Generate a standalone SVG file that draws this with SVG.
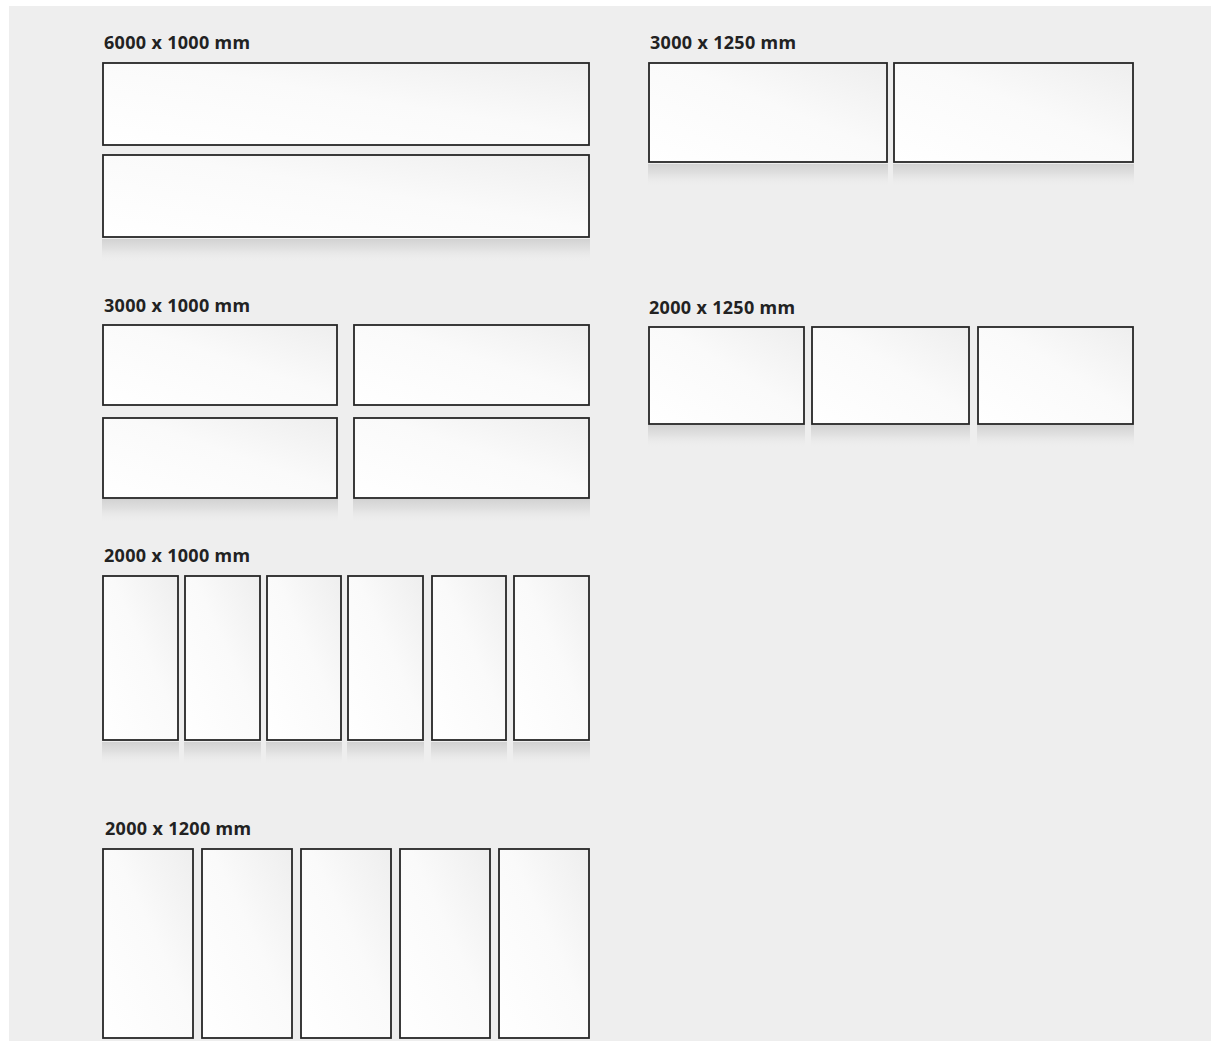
<svg xmlns="http://www.w3.org/2000/svg" width="1211" height="1041" viewBox="0 0 1211 1041">
<defs>
<linearGradient id="panelFill" x1="0" y1="1" x2="1" y2="0">
<stop offset="0" stop-color="#ffffff"/>
<stop offset="0.55" stop-color="#fafafa"/>
<stop offset="1" stop-color="#eeeeee"/>
</linearGradient>
<linearGradient id="shadowFill" x1="0" y1="0" x2="0" y2="1">
<stop offset="0" stop-color="#d2d2d2" stop-opacity="1"/>
<stop offset="0.4" stop-color="#dedede" stop-opacity="0.9"/>
<stop offset="1" stop-color="#eeeeee" stop-opacity="0"/>
</linearGradient>
</defs>
<style>
.p{fill:url(#panelFill);stroke:#262626;stroke-width:1.8}
.s{fill:url(#shadowFill)}
.t{font-family:"Noto Sans","Open Sans",sans-serif;font-weight:bold;font-size:18px;fill:#222}
</style>
<rect x="0" y="0" width="1211" height="1041" fill="#ffffff"/>
<rect x="9" y="6" width="1202" height="1035" fill="#eeeeee"/>

<g id="g6000x1000">
<text class="t" x="104" y="49" textLength="146" lengthAdjust="spacing">6000 x 1000 mm</text>
<rect class="s" x="102" y="239" width="488" height="23"/>
<rect class="p" x="103" y="63" width="486" height="82"/>
<rect class="p" x="103" y="155" width="486" height="82"/>
</g>

<g id="g3000x1250">
<text class="t" x="650" y="49" textLength="146" lengthAdjust="spacing">3000 x 1250 mm</text>
<rect class="s" x="648" y="164" width="240" height="23"/>
<rect class="s" x="893" y="164" width="241" height="23"/>
<rect class="p" x="649" y="63" width="238" height="99"/>
<rect class="p" x="894" y="63" width="239" height="99"/>
</g>

<g id="g3000x1000">
<text class="t" x="104" y="312" textLength="146" lengthAdjust="spacing">3000 x 1000 mm</text>
<rect class="s" x="102" y="499" width="236" height="24"/>
<rect class="s" x="353" y="499" width="237" height="24"/>
<rect class="p" x="103" y="325" width="234" height="80"/>
<rect class="p" x="354" y="325" width="235" height="80"/>
<rect class="p" x="103" y="418" width="234" height="80"/>
<rect class="p" x="354" y="418" width="235" height="80"/>
</g>

<g id="g2000x1250">
<text class="t" x="649" y="314" textLength="146" lengthAdjust="spacing">2000 x 1250 mm</text>
<rect class="s" x="648" y="425" width="157" height="23"/>
<rect class="s" x="811" y="425" width="159" height="23"/>
<rect class="s" x="977" y="425" width="157" height="23"/>
<rect class="p" x="649" y="327" width="155" height="97"/>
<rect class="p" x="812" y="327" width="157" height="97"/>
<rect class="p" x="978" y="327" width="155" height="97"/>
</g>

<g id="g2000x1000">
<text class="t" x="104" y="562" textLength="146" lengthAdjust="spacing">2000 x 1000 mm</text>
<rect class="s" x="102" y="742" width="77" height="23"/>
<rect class="s" x="184" y="742" width="77" height="23"/>
<rect class="s" x="266" y="742" width="76" height="23"/>
<rect class="s" x="347" y="742" width="77" height="23"/>
<rect class="s" x="431" y="742" width="76" height="23"/>
<rect class="s" x="513" y="742" width="77" height="23"/>
<rect class="p" x="103" y="576" width="75" height="164"/>
<rect class="p" x="185" y="576" width="75" height="164"/>
<rect class="p" x="267" y="576" width="74" height="164"/>
<rect class="p" x="348" y="576" width="75" height="164"/>
<rect class="p" x="432" y="576" width="74" height="164"/>
<rect class="p" x="514" y="576" width="75" height="164"/>
</g>

<g id="g2000x1200">
<text class="t" x="105" y="835" textLength="146" lengthAdjust="spacing">2000 x 1200 mm</text>
<rect class="p" x="103" y="849" width="90" height="189"/>
<rect class="p" x="202" y="849" width="90" height="189"/>
<rect class="p" x="301" y="849" width="90" height="189"/>
<rect class="p" x="400" y="849" width="90" height="189"/>
<rect class="p" x="499" y="849" width="90" height="189"/>
</g>

<g id="connectors"></g>
</svg>
